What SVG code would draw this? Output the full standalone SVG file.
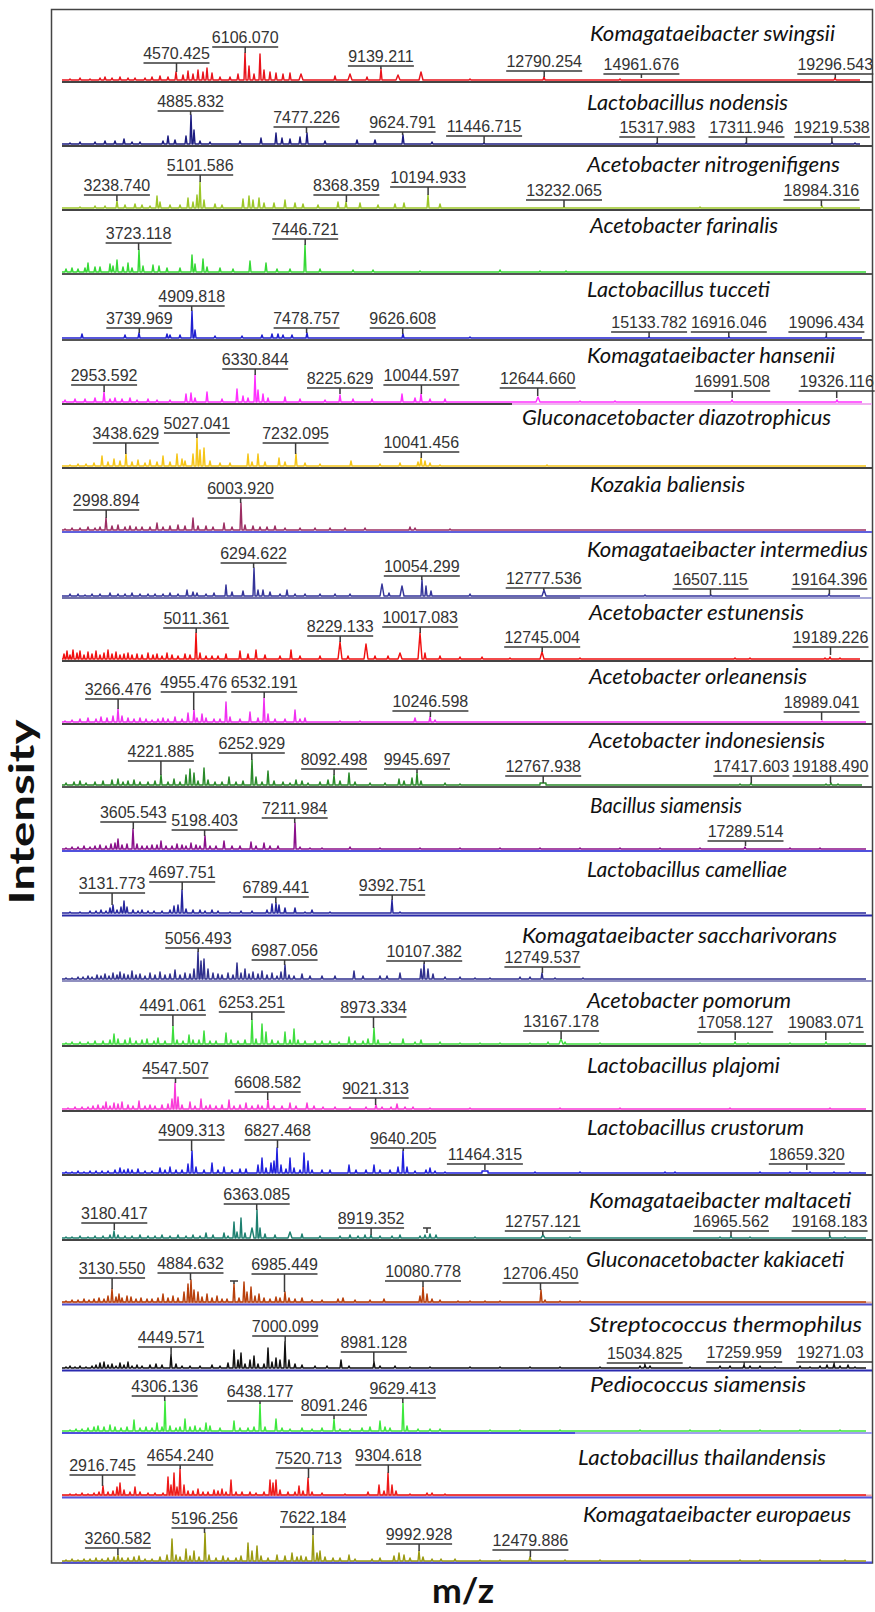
<svg xmlns="http://www.w3.org/2000/svg" width="875" height="1612" viewBox="0 0 875 1612">
<style>
.s{fill:none;stroke-width:1.45;stroke-linejoin:round}
.sep{fill:none;stroke-width:2}
.mk{fill:none;stroke:#3a3a3a;stroke-width:1.5}
.pk{font-family:"Liberation Sans",Arial,sans-serif;font-size:16px;fill:#333;text-anchor:middle}
.sn{font-family:Lato,"Open Sans",sans-serif;font-style:italic;font-size:22px;fill:#111}
.ax{font-family:Lato,"Open Sans",sans-serif;font-weight:bold;font-size:34px;fill:#111;text-anchor:middle}
</style>
<rect width="875" height="1612" fill="#fff"/>
<rect x="51.5" y="9.5" width="821" height="1553.5" fill="none" stroke="#444" stroke-width="1.5"/>

<g id="panel-1">
<path class="sep" stroke="#444" d="M62 82H872"/>
<path class="s" stroke="#e8141c" d="M62 80H69l1-1l1 1H79l1-2l1 2H89l1-1l1 1H99l1-2l1 2H104l1-3l1 3H111l1-2l1 2H119l1-3l1 3H127l1-2l1 2H134l1-2l1 2H144l1-2l1 2H151l1-3l1 3H159l1-4l1 4H167l1-3l1 3H175l1-8l1 8H182l1-5l1 5H187l1-9l1 9H192l1-6l1 6H197l1-10l1 10H202l1-8l1 8H206l1-12l1 12H211l1-7l1 7H219l1-3l1 3H229l1-3l1 3H237l1-6l1 6H244l1-27l1 27H248l1-14l1 14H253l1-6l1 6H259l1-26l1 26H263l1-10l1 10H269l1-8l1 8H275l1-7l1 7H282l1-6l1 6H289l1-7l1 7H299l2-6l2 6H334l1-4l1 4H348l2-6l2 6H366l1-3l1 3H380l1-11l1 11H396l2-5l2 5H419l2-8l2 8H469l1-1l1 1H543l1-3l1 3H619l1-1l1 1H834l1-2l1 2H860"/>
<text class="sn" x="590" y="41" textLength="245" lengthAdjust="spacingAndGlyphs">Komagataeibacter swingsii</text>
<path class="mk" d="M143.5 63h66M176.5 63V72M212.2 47h66M245.2 47V53M347.9 66h66M380.9 66V69M506.2 71h76M544.2 71V77M603.4 74h76M641.4 74V78M797.3 74h76M835.3 74V78"/>
<text class="pk" x="176.5" y="59">4570.425</text>
<text class="pk" x="245.2" y="43">6106.070</text>
<text class="pk" x="380.9" y="62">9139.211</text>
<text class="pk" x="544.2" y="67">12790.254</text>
<text class="pk" x="641.4" y="70">14961.676</text>
<text class="pk" x="835.3" y="70">19296.543</text>
</g>

<g id="panel-2">
<path class="sep" stroke="#444" d="M62 146H872"/>
<path class="s" stroke="#1c1c80" d="M62 144H69l1-1l1 1H79l1-2l1 2H94l1-2l1 2H104l1-3l1 3H114l1-3l1 3H123l1-5l1 5H131l1-2l1 2H139l1-2l1 2H162l1-3l1 3H167l1-8l1 8H174l1-4l1 4H185l1-8l1 8H190l1-29l1 29H193l1-14l1 14H199l1-3l1 3H209l1-2l1 2H239l1-3l1 3H260l1-6l1 6H275l1-11l1 11H281l1-6l1 6H289l1-5l1 5H299l1-7l1 7H306l1-11l1 11H324l1-3l1 3H356l1-4l1 4H374l1-4l1 4H402l1-9l1 9H431l1-2l1 2H483l1-1l1 1H656l1-1l1 1H745l1-1l1 1H831l1-2l1 2H854l1-1l1 1H860"/>
<text class="sn" x="587" y="110" textLength="201" lengthAdjust="spacingAndGlyphs">Lactobacillus nodensis</text>
<path class="mk" d="M157.6 111h66M190.6 111V115M273.5 127h66M306.5 127V133M369.6 132h66M402.6 132V135M446.1 136h76M484.1 136V143M619.3 137h76M657.3 137V143M708.5 137h76M746.5 137V143M793.9 137h76M831.9 137V143"/>
<text class="pk" x="190.6" y="107">4885.832</text>
<text class="pk" x="306.5" y="123">7477.226</text>
<text class="pk" x="402.6" y="128">9624.791</text>
<text class="pk" x="484.1" y="132">11446.715</text>
<text class="pk" x="657.3" y="133">15317.983</text>
<text class="pk" x="746.5" y="133">17311.946</text>
<text class="pk" x="831.9" y="133">19219.538</text>
</g>

<g id="panel-3">
<path class="sep" stroke="#444" d="M62 210H872"/>
<path class="s" stroke="#9cc628" d="M62 208H79l1-1l1 1H94l1-2l1 2H104l1-2l1 2H116l1-7l1 7H124l1-3l1 3H134l1-4l1 4H141l1-3l1 3H149l1-2l1 2H156l1-12l1 12H159l1-6l1 6H169l1-3l1 3H179l1-3l1 3H187l1-10l1 10H192l1-6l1 6H196l1-13l1 13H199l1-26l1 26H203l1-8l1 8H214l1-4l1 4H221l1-3l1 3H242l1-9l1 9H248l1-12l1 12H252l1-8l1 8H258l1-10l1 10H263l1-5l1 5H273l1-5l1 5H284l1-8l1 8H294l1-5l1 5H302l1-4l1 4H317l1-3l1 3H337l1-6l1 6H345l1-6l1 6H359l1-5l1 5H377l1-3l1 3H394l1-4l1 4H403l1-5l1 5H427l1-13l1 13H439l1-4l1 4H563l1-1l1 1H699l1-1l1 1H821l1-2l1 2H860"/>
<text class="sn" x="587" y="172" textLength="253" lengthAdjust="spacingAndGlyphs">Acetobacter nitrogenifigens</text>
<path class="mk" d="M83.9 195h66M116.9 195V201M167.2 175h66M200.2 175V182M313.4 195h66M346.4 195V202M390.1 187h76M428.1 187V195M526 200h76M564 200V207M783.4 200h76M821.4 200V206"/>
<text class="pk" x="116.9" y="191">3238.740</text>
<text class="pk" x="200.2" y="171">5101.586</text>
<text class="pk" x="346.4" y="191">8368.359</text>
<text class="pk" x="428.1" y="183">10194.933</text>
<text class="pk" x="564" y="196">13232.065</text>
<text class="pk" x="821.4" y="196">18984.316</text>
</g>

<g id="panel-4">
<path class="sep" stroke="#555" d="M62 274H872"/>
<path class="s" stroke="#36d936" d="M62 272H65l1-3l1 3H71l1-4l1 4H77l1-3l1 3H84l1-4l1 4H87l1-9l1 9H94l1-5l1 5H99l1-5l1 5H109l1-8l1 8H112l1-6l1 6H116l1-12l1 12H122l1-5l1 5H127l1-9l1 9H131l1-4l1 4H138l1-22l1 22H142l1-6l1 6H152l1-7l1 7H158l1-6l1 6H166l1-4l1 4H179l1-4l1 4H191l1-17l1 17H194l1-8l1 8H202l1-13l1 13H206l1-5l1 5H219l1-4l1 4H232l1-3l1 3H249l1-11l1 11H265l1-9l1 9H276l1-3l1 3H289l1-3l1 3H304l1-27l1 27H319l1-3l1 3H352l1-2l1 2H372l1-2l1 2H419l1-1l1 1H499l1-2l1 2H539l1-1l1 1H565l1-1l1 1H866"/>
<text class="sn" x="590" y="233" textLength="188" lengthAdjust="spacingAndGlyphs">Acetobacter farinalis</text>
<path class="mk" d="M105.6 243h66M138.6 243V250M272.2 239h66M305.2 239V245"/>
<text class="pk" x="138.6" y="239">3723.118</text>
<text class="pk" x="305.2" y="235">7446.721</text>
</g>

<g id="panel-5">
<path class="sep" stroke="#555" d="M62 340H872"/>
<path class="s" stroke="#2020d0" d="M62 338H81l1-4l1 4H124l1-3l1 3H138l1-5l1 5H166l1-4l1 4H169l1-3l1 3H179l1-3l1 3H191l1-27l1 27H194l1-8l1 8H214l1-2l1 2H241l1-2l1 2H261l1-3l1 3H271l1-4l1 4H277l1-4l1 4H282l1-3l1 3H291l1-3l1 3H306l1-5l1 5H402l1-4l1 4H469l1-1l1 1H648l1-1l1 1H728l1-1l1 1H825l1-1l1 1H862"/>
<text class="sn" x="587" y="297" textLength="183" lengthAdjust="spacingAndGlyphs">Lactobacillus tucceti</text>
<path class="mk" d="M158.7 306h66M191.7 306V311M106.3 328h66M139.3 328V333M273.6 328h66M306.6 328V333M369.7 328h66M402.7 328V334M611.1 332h76M649.1 332V337M690.8 332h76M728.8 332V337M788.4 332h76M826.4 332V337"/>
<text class="pk" x="191.7" y="302">4909.818</text>
<text class="pk" x="139.3" y="324">3739.969</text>
<text class="pk" x="306.6" y="324">7478.757</text>
<text class="pk" x="402.7" y="324">9626.608</text>
<text class="pk" x="649.1" y="328">15133.782</text>
<text class="pk" x="728.8" y="328">16916.046</text>
<text class="pk" x="826.4" y="328">19096.434</text>
</g>

<g id="panel-6">
<path class="sep" stroke="#444" d="M62 404H512"/>
<path class="sep" stroke="#f0b0f0" d="M512 404H872"/>
<path class="s" stroke="#ff30ff" d="M62 402H64l1-2l1 2H74l1-3l1 3H84l1-3l1 3H94l1-4l1 4H103l1-10l1 10H109l1-3l1 3H114l1-4l1 4H121l1-3l1 3H129l1-4l1 4H136l1-2l1 2H147l1-3l1 3H156l1-2l1 2H169l1-2l1 2H185l1-8l1 8H190l1-9l1 9H194l1-4l1 4H206l1-10l1 10H221l1-3l1 3H236l1-13l1 13H242l1-6l1 6H247l1-4l1 4H254l1-27l1 27H257l1-12l1 12H262l1-8l1 8H267l1-4l1 4H284l1-5l1 5H299l1-3l1 3H324l1-2l1 2H339l1-7l1 7H352l1-3l1 3H371l1-3l1 3H401l1-8l1 8H414l1-4l1 4H420l1-8l1 8H429l1-3l1 3H444l1-3l1 3H536l2-5l2 5H579l1-1l1 1H614l1-1l1 1H731l1-2l1 2H836l1-2l1 2H862"/>
<text class="sn" x="587" y="363" textLength="248" lengthAdjust="spacingAndGlyphs">Komagataeibacter hansenii</text>
<path class="mk" d="M71.1 385h66M104.1 385V392M222.2 369h66M255.2 369V375M307 388h66M340 388V394M383.4 385h76M421.4 385V394M499.7 388h76M537.7 388V396M694.2 391h76M732.2 391V398M798.7 391h76M836.7 391V398"/>
<text class="pk" x="104.1" y="381">2953.592</text>
<text class="pk" x="255.2" y="365">6330.844</text>
<text class="pk" x="340" y="384">8225.629</text>
<text class="pk" x="421.4" y="381">10044.597</text>
<text class="pk" x="537.7" y="384">12644.660</text>
<text class="pk" x="732.2" y="387">16991.508</text>
<text class="pk" x="836.7" y="387">19326.116</text>
</g>

<g id="panel-7">
<path class="sep" stroke="#444" d="M62 468H872"/>
<path class="s" stroke="#f5c518" d="M62 466H69l1-1l1 1H77l1-2l1 2H85l1-2l1 2H93l1-3l1 3H101l1-10l1 10H107l1-4l1 4H113l1-7l1 7H119l1-5l1 5H125l1-12l1 12H131l1-4l1 4H137l1-6l1 6H144l1-3l1 3H149l1-6l1 6H156l1-4l1 4H162l1-10l1 10H169l1-4l1 4H176l1-12l1 12H181l1-7l1 7H184l1-5l1 5H192l1-12l1 12H196l1-28l1 28H199l1-16l1 16H203l1-18l1 18H209l1-5l1 5H219l1-3l1 3H229l1-3l1 3H247l1-12l1 12H251l1-4l1 4H257l1-12l1 12H264l1-4l1 4H278l1-8l1 8H284l1-4l1 4H295l1-12l1 12H304l1-3l1 3H319l1-2l1 2H350l1-5l1 5H379l1-2l1 2H399l1-3l1 3H417l1-4l1 4H420l1-8l1 8H424l1-5l1 5H429l1-3l1 3H439l1-1l1 1H546l1-1l1 1H866"/>
<text class="sn" x="522" y="425" textLength="309" lengthAdjust="spacingAndGlyphs">Gluconacetobacter diazotrophicus</text>
<path class="mk" d="M92.8 443h66M125.8 443V454M163.9 433h66M196.9 433V438M262.6 443h66M295.6 443V454M383.3 452h76M421.3 452V458"/>
<text class="pk" x="125.8" y="439">3438.629</text>
<text class="pk" x="196.9" y="429">5027.041</text>
<text class="pk" x="295.6" y="439">7232.095</text>
<text class="pk" x="421.3" y="448">10041.456</text>
</g>

<g id="panel-8">
<path class="sep" stroke="#6060dd" d="M62 532H872"/>
<path class="s" stroke="#9c2f63" d="M62 530H64l1-1l1 1H71l1-2l1 2H79l1-2l1 2H87l1-3l1 3H94l1-2l1 2H99l1-3l1 3H105l1-12l1 12H111l1-4l1 4H117l1-5l1 5H124l1-3l1 3H129l1-4l1 4H135l1-3l1 3H141l1-3l1 3H149l1-3l1 3H156l1-7l1 7H162l1-3l1 3H169l1-4l1 4H177l1-5l1 5H184l1-4l1 4H192l1-12l1 12H197l1-4l1 4H205l1-4l1 4H212l1-3l1 3H223l1-7l1 7H231l1-3l1 3H240l1-27l1 27H244l1-5l1 5H252l1-4l1 4H259l1-3l1 3H266l1-3l1 3H274l1-4l1 4H284l1-2l1 2H299l1-2l1 2H314l1-2l1 2H329l1-2l1 2H344l1-2l1 2H364l1-2l1 2H409l1-3l1 3H414l1-2l1 2H449l1-1l1 1H866"/>
<text class="sn" x="590" y="492" textLength="155" lengthAdjust="spacingAndGlyphs">Kozakia baliensis</text>
<path class="mk" d="M73.2 510h66M106.2 510V518M207.6 498h66M240.6 498V503"/>
<text class="pk" x="106.2" y="506">2998.894</text>
<text class="pk" x="240.6" y="494">6003.920</text>
</g>

<g id="panel-9">
<path class="sep" stroke="#7070a8" d="M62 598H580"/>
<path class="sep" stroke="#a8a8d8" d="M580 598H872"/>
<path class="s" stroke="#35359a" d="M62 596H69l1-2l1 2H77l1-2l1 2H84l1-1l1 1H91l1-2l1 2H99l1-2l1 2H109l1-3l1 3H117l1-2l1 2H124l1-2l1 2H131l1-3l1 3H139l1-2l1 2H147l1-2l1 2H154l1-2l1 2H162l1-2l1 2H169l1-3l1 3H177l1-2l1 2H186l1-6l1 6H192l1-4l1 4H196l1-3l1 3H205l1-2l1 2H213l1-3l1 3H225l1-11l1 11H231l1-4l1 4H242l1-5l1 5H253l1-28l1 28H257l1-6l1 6H262l1-6l1 6H269l1-4l1 4H279l1-2l1 2H286l1-6l1 6H294l1-2l1 2H304l1-2l1 2H319l1-2l1 2H334l1-2l1 2H349l1-2l1 2H380l2-12l2 12H388l1-3l1 3H400l2-10l2 10H421l1-16l1 16H425l1-10l1 10H430l1-5l1 5H469l1-2l1 2H542l2-6l2 6H644l1-1l1 1H710l1-1l1 1H828l1-2l1 2H860"/>
<text class="sn" x="587" y="557" textLength="281" lengthAdjust="spacingAndGlyphs">Komagataeibacter intermedius</text>
<path class="mk" d="M220.6 563h66M253.6 563V568M383.8 576h76M421.8 576V580M505.7 588h76M543.7 588V590M672.5 589h76M710.5 589V595M791.4 589h76M829.4 589V594"/>
<text class="pk" x="253.6" y="559">6294.622</text>
<text class="pk" x="421.8" y="572">10054.299</text>
<text class="pk" x="543.7" y="584">12777.536</text>
<text class="pk" x="710.5" y="585">16507.115</text>
<text class="pk" x="829.4" y="585">19164.396</text>
</g>

<g id="panel-10">
<path class="sep" stroke="#444" d="M62 661H872"/>
<path class="s" stroke="#f01010" d="M62 659H63l1-5l1 5H66l1-8l1 8H69l1-4l1 4H72l1-9l1 9H76l1-6l1 6H79l1-8l1 8H83l1-4l1 4H87l1-7l1 7H91l1-5l1 5H95l1-8l1 8H99l1-4l1 4H103l1-6l1 6H107l1-9l1 9H111l1-5l1 5H115l1-7l1 7H119l1-4l1 4H123l1-5l1 5H127l1-6l1 6H131l1-4l1 4H136l1-5l1 5H141l1-4l1 4H147l1-6l1 6H152l1-4l1 4H156l1-5l1 5H161l1-3l1 3H166l1-6l1 6H171l1-4l1 4H177l1-3l1 3H184l1-5l1 5H189l1-4l1 4H195l1-26l1 26H199l1-6l1 6H205l1-3l1 3H211l1-3l1 3H217l1-3l1 3H225l1-5l1 5H239l1-8l1 8H247l1-5l1 5H255l1-9l1 9H264l1-4l1 4H279l1-3l1 3H290l1-9l1 9H299l1-3l1 3H319l1-3l1 3H338l2-17l2 17H347l1-3l1 3H364l2-15l2 15H374l1-3l1 3H387l1-3l1 3H398l2-6l2 6H418l2-26l2 26H424l1-6l1 6H439l1-3l1 3H459l1-2l1 2H481l1-2l1 2H509l1-1l1 1H540l2-7l2 7H579l1-1l1 1H734l1-1l1 1H749l1-1l1 1H824l1-1l1 1H829l1-2l1 2H839l1-1l1 1H860"/>
<text class="sn" x="589" y="620" textLength="215" lengthAdjust="spacingAndGlyphs">Acetobacter estunensis</text>
<path class="mk" d="M163.2 628h66M196.2 628V633M307.2 636h66M340.2 636V642M382.2 627h76M420.2 627V633M504.2 647h76M542.2 647V652M792.5 647h76M830.5 647V655"/>
<text class="pk" x="196.2" y="624">5011.361</text>
<text class="pk" x="340.2" y="632">8229.133</text>
<text class="pk" x="420.2" y="623">10017.083</text>
<text class="pk" x="542.2" y="643">12745.004</text>
<text class="pk" x="830.5" y="643">19189.226</text>
</g>

<g id="panel-11">
<path class="sep" stroke="#444" d="M62 724H872"/>
<path class="s" stroke="#f030f0" d="M62 722H64l1-1l1 1H71l1-2l1 2H79l1-3l1 3H87l1-4l1 4H95l1-3l1 3H100l1-5l1 5H106l1-4l1 4H112l1-6l1 6H117l1-13l1 13H121l1-6l1 6H127l1-4l1 4H133l1-3l1 3H139l1-4l1 4H145l1-3l1 3H151l1-2l1 2H157l1-3l1 3H162l1-4l1 4H167l1-3l1 3H174l1-5l1 5H181l1-3l1 3H187l1-9l1 9H193l1-12l1 12H196l1-4l1 4H201l1-8l1 8H205l1-4l1 4H213l1-3l1 3H219l1-3l1 3H225l1-20l1 20H229l1-5l1 5H239l1-3l1 3H249l1-10l1 10H257l1-4l1 4H263l1-24l1 24H267l1-8l1 8H274l1-3l1 3H284l1-3l1 3H294l1-12l1 12H299l1-3l1 3H304l1-4l1 4H339l1-1l1 1H359l1-1l1 1H414l1-4l1 4H429l1-5l1 5H434l1-2l1 2H821l1-1l1 1H866"/>
<text class="sn" x="589" y="684" textLength="218" lengthAdjust="spacingAndGlyphs">Acetobacter orleanensis</text>
<path class="mk" d="M85.1 699h66M118.1 699V709M160.7 692h66M193.7 692V710M231.2 692h66M264.2 692V698M392.4 711h76M430.4 711V717M783.6 712h76M821.6 712V720"/>
<text class="pk" x="118.1" y="695">3266.476</text>
<text class="pk" x="193.7" y="688">4955.476</text>
<text class="pk" x="264.2" y="688">6532.191</text>
<text class="pk" x="430.4" y="707">10246.598</text>
<text class="pk" x="821.6" y="708">18989.041</text>
</g>

<g id="panel-12">
<path class="sep" stroke="#555" d="M62 787H872"/>
<path class="s" stroke="#2a8a2a" d="M62 785H65l1-2l1 2H73l1-3l1 3H79l1-4l1 4H85l1-2l1 2H94l1-3l1 3H102l1-4l1 4H111l1-5l1 5H117l1-6l1 6H122l1-3l1 3H127l1-4l1 4H133l1-5l1 5H139l1-3l1 3H147l1-3l1 3H154l1-4l1 4H160l1-10l1 10H167l1-3l1 3H173l1-6l1 6H179l1-3l1 3H185l1-10l1 10H189l1-16l1 16H193l1-12l1 12H197l1-4l1 4H203l1-17l1 17H207l1-5l1 5H214l1-3l1 3H221l1-3l1 3H228l1-8l1 8H235l1-3l1 3H242l1-4l1 4H251l1-25l1 25H255l1-8l1 8H261l1-3l1 3H267l1-14l1 14H273l1-4l1 4H282l1-3l1 3H289l1-2l1 2H295l1-5l1 5H301l1-4l1 4H307l1-2l1 2H319l1-3l1 3H327l1-5l1 5H333l1-10l1 10H339l1-4l1 4H348l1-12l1 12H354l1-3l1 3H369l1-2l1 2H384l1-2l1 2H398l1-6l1 6H403l1-4l1 4H411l1-7l1 7H416l1-12l1 12H420l1-4l1 4H444l1-2l1 2H459l1-1l1 1H540v-2h6v2H739l1-1l1 1H750l1-2l1 2H825l1-1l1 1H830l1-2l1 2H837l1-1l1 1H862"/>
<text class="sn" x="589" y="748" textLength="236" lengthAdjust="spacingAndGlyphs">Acetobacter indonesiensis</text>
<path class="mk" d="M127.9 761h66M160.9 761V775M218.8 753h66M251.8 753V760M301.1 769h66M334.1 769V775M384 769h66M417 769V773M505.2 776h76M543.2 776V783M713.3 776h76M751.3 776V783M792.5 776h76M830.5 776V783"/>
<text class="pk" x="160.9" y="757">4221.885</text>
<text class="pk" x="251.8" y="749">6252.929</text>
<text class="pk" x="334.1" y="765">8092.498</text>
<text class="pk" x="417" y="765">9945.697</text>
<text class="pk" x="543.2" y="772">12767.938</text>
<text class="pk" x="751.3" y="772">17417.603</text>
<text class="pk" x="830.5" y="772">19188.490</text>
</g>

<g id="panel-13">
<path class="sep" stroke="#5050dd" d="M62 851H872"/>
<path class="s" stroke="#8a108a" d="M62 849H65l1-1l1 1H71l1-2l1 2H77l1-2l1 2H83l1-3l1 3H89l1-2l1 2H94l1-3l1 3H99l1-4l1 4H105l1-3l1 3H110l1-5l1 5H114l1-6l1 6H117l1-10l1 10H121l1-4l1 4H126l1-5l1 5H132l1-20l1 20H136l1-5l1 5H141l1-3l1 3H146l1-3l1 3H151l1-4l1 4H156l1-4l1 4H160l1-8l1 8H165l1-3l1 3H171l1-3l1 3H176l1-5l1 5H181l1-4l1 4H185l1-3l1 3H190l1-6l1 6H195l1-4l1 4H199l1-3l1 3H204l1-13l1 13H209l1-3l1 3H215l1-3l1 3H223l1-8l1 8H231l1-3l1 3H239l1-3l1 3H250l1-7l1 7H255l1-3l1 3H263l1-6l1 6H269l1-3l1 3H277l1-3l1 3H294l1-26l1 26H299l1-2l1 2H309l1-1l1 1H321l1-1l1 1H349l1-2l1 2H379l1-1l1 1H419l1-1l1 1H459l1-1l1 1H499l1-1l1 1H539l1-1l1 1H579l1-1l1 1H619l1-1l1 1H659l1-1l1 1H699l1-1l1 1H744l1-2l1 2H789l1-1l1 1H819l1-1l1 1H866"/>
<text class="sn" x="590" y="813" textLength="152" lengthAdjust="spacingAndGlyphs">Bacillus siamensis</text>
<path class="mk" d="M100.3 822h66M133.3 822V829M171.6 830h66M204.6 830V836M261.7 818h66M294.7 818V823M707.5 841h76M745.5 841V846"/>
<text class="pk" x="133.3" y="818">3605.543</text>
<text class="pk" x="204.6" y="826">5198.403</text>
<text class="pk" x="294.7" y="814">7211.984</text>
<text class="pk" x="745.5" y="837">17289.514</text>
</g>

<g id="panel-14">
<path class="sep" stroke="#2a2aa8" stroke-width="3" d="M62 915.5H872"/>
<path class="s" stroke="#26269e" d="M62 913H69l1-1l1 1H79l1-1l1 1H89l1-2l1 2H95l1-2l1 2H100l1-3l1 3H105l1-2l1 2H109l1-5l1 5H112l1-8l1 8H116l1-3l1 3H120l1-6l1 6H123l1-12l1 12H126l1-6l1 6H132l1-3l1 3H137l1-2l1 2H141l1-3l1 3H147l1-2l1 2H153l1-2l1 2H161l1-2l1 2H169l1-3l1 3H173l1-7l1 7H177l1-8l1 8H181l1-23l1 23H185l1-4l1 4H192l1-3l1 3H199l1-3l1 3H204l1-2l1 2H211l1-3l1 3H217l1-2l1 2H229l1-1l1 1H240l1-2l1 2H251l1-2l1 2H266l1-3l1 3H271l1-9l1 9H275l1-10l1 10H278l1-8l1 8H284l1-5l1 5H294l1-5l1 5H304l1-1l1 1H311l1-3l1 3H329l1-1l1 1H391l1-13l1 13H399l1-1l1 1H866"/>
<text class="sn" x="587" y="877" textLength="200" lengthAdjust="spacingAndGlyphs">Lactobacillus camelliae</text>
<path class="mk" d="M79.1 893h66M112.1 893V905M149.2 882h66M182.2 882V890M242.8 897h66M275.8 897V903M359.2 895h66M392.2 895V900"/>
<text class="pk" x="112.1" y="889">3131.773</text>
<text class="pk" x="182.2" y="878">4697.751</text>
<text class="pk" x="275.8" y="893">6789.441</text>
<text class="pk" x="392.2" y="891">9392.751</text>
</g>

<g id="panel-15">
<path class="sep" stroke="#9090c0" d="M62 981H872"/>
<path class="s" stroke="#30308e" d="M62 979H65l1-1l1 1H71l1-1l1 1H77l1-2l1 2H82l1-2l1 2H87l1-3l1 3H91l1-2l1 2H96l1-4l1 4H100l1-3l1 3H104l1-5l1 5H108l1-3l1 3H112l1-6l1 6H116l1-4l1 4H119l1-7l1 7H123l1-5l1 5H127l1-4l1 4H131l1-8l1 8H135l1-4l1 4H139l1-5l1 5H144l1-3l1 3H149l1-6l1 6H154l1-4l1 4H159l1-7l1 7H164l1-4l1 4H169l1-5l1 5H174l1-9l1 9H179l1-4l1 4H184l1-6l1 6H189l1-5l1 5H193l1-10l1 10H197l1-27l1 27H200l1-18l1 18H203l1-20l1 20H207l1-10l1 10H212l1-6l1 6H217l1-5l1 5H221l1-4l1 4H227l1-6l1 6H232l1-4l1 4H236l1-16l1 16H240l1-6l1 6H244l1-10l1 10H248l1-5l1 5H252l1-7l1 7H257l1-5l1 5H261l1-8l1 8H266l1-4l1 4H271l1-6l1 6H276l1-3l1 3H280l1-7l1 7H284l1-14l1 14H288l1-4l1 4H293l1-3l1 3H301l1-5l1 5H309l1-3l1 3H321l1-3l1 3H334l1-3l1 3H353l1-8l1 8H362l1-3l1 3H379l1-3l1 3H386l1-3l1 3H399l1-6l1 6H420l1-10l1 10H423l1-15l1 15H427l1-10l1 10H432l1-5l1 5H444l1-2l1 2H459l1-2l1 2H474l1-1l1 1H489l1-1l1 1H519l1-2l1 2H529l1-2l1 2H541l1-6l1 6H554l1-1l1 1H582l1-1l1 1H866"/>
<text class="sn" x="522" y="943" textLength="315" lengthAdjust="spacingAndGlyphs">Komagataeibacter saccharivorans</text>
<path class="mk" d="M165.2 948h66M198.2 948V952M251.6 960h66M284.6 960V965M386.2 961h76M424.2 961V964M504.4 967h76M542.4 967V973"/>
<text class="pk" x="198.2" y="944">5056.493</text>
<text class="pk" x="284.6" y="956">6987.056</text>
<text class="pk" x="424.2" y="957">10107.382</text>
<text class="pk" x="542.4" y="963">12749.537</text>
</g>

<g id="panel-16">
<path class="sep" stroke="#444" d="M62 1046H872"/>
<path class="s" stroke="#3ede3e" d="M62 1044H65l1-1l1 1H71l1-2l1 2H79l1-2l1 2H87l1-2l1 2H94l1-3l1 3H102l1-3l1 3H109l1-4l1 4H113l1-10l1 10H117l1-5l1 5H124l1-4l1 4H129l1-6l1 6H135l1-3l1 3H141l1-4l1 4H146l1-5l1 5H153l1-3l1 3H157l1-6l1 6H164l1-3l1 3H172l1-18l1 18H176l1-4l1 4H182l1-3l1 3H188l1-9l1 9H192l1-4l1 4H198l1-4l1 4H203l1-13l1 13H209l1-3l1 3H215l1-3l1 3H225l1-11l1 11H230l1-4l1 4H237l1-3l1 3H244l1-4l1 4H251l1-24l1 24H255l1-5l1 5H261l1-20l1 20H265l1-12l1 12H271l1-4l1 4H277l1-3l1 3H284l1-12l1 12H289l1-4l1 4H293l1-15l1 15H297l1-4l1 4H304l1-3l1 3H314l1-3l1 3H321l1-3l1 3H329l1-3l1 3H338l1-2l1 2H348l1-7l1 7H354l1-3l1 3H362l1-3l1 3H367l1-5l1 5H373l1-16l1 16H377l1-4l1 4H389l1-2l1 2H402l1-5l1 5H414l1-2l1 2H420l1-4l1 4H439l1-2l1 2H459l1-1l1 1H479l1-1l1 1H499l1-1l1 1H529l1-1l1 1H547l1-2l1 2H559l2-5l2 5H564l1-2l1 2H599l1-1l1 1H699l1-1l1 1H734l1-2l1 2H747l1-1l1 1H789l1-1l1 1H825l1-2l1 2H849l1-1l1 1H866"/>
<text class="sn" x="587" y="1008" textLength="204" lengthAdjust="spacingAndGlyphs">Acetobacter pomorum</text>
<path class="mk" d="M139.9 1015h66M172.9 1015V1026M218.8 1012h66M251.8 1012V1020M340.5 1017h66M373.5 1017V1028M523.1 1031h76M561.1 1031V1039M697.2 1032h76M735.2 1032V1040M787.8 1032h76M825.8 1032V1040"/>
<text class="pk" x="172.9" y="1011">4491.061</text>
<text class="pk" x="251.8" y="1008">6253.251</text>
<text class="pk" x="373.5" y="1013">8973.334</text>
<text class="pk" x="561.1" y="1027">13167.178</text>
<text class="pk" x="735.2" y="1028">17058.127</text>
<text class="pk" x="825.8" y="1028">19083.071</text>
</g>

<g id="panel-17">
<path class="sep" stroke="#444" d="M62 1111H872"/>
<path class="s" stroke="#fa3ad8" d="M62 1109H67l1-1l1 1H74l1-2l1 2H81l1-2l1 2H87l1-2l1 2H92l1-3l1 3H97l1-4l1 4H102l1-3l1 3H105l1-7l1 7H109l1-3l1 3H113l1-6l1 6H117l1-5l1 5H121l1-7l1 7H127l1-4l1 4H132l1-3l1 3H138l1-8l1 8H144l1-3l1 3H149l1-4l1 4H154l1-3l1 3H161l1-4l1 4H167l1-5l1 5H171l1-10l1 10H174l1-26l1 26H177l1-12l1 12H181l1-4l1 4H189l1-7l1 7H194l1-3l1 3H200l1-10l1 10H205l1-3l1 3H209l1-4l1 4H215l1-3l1 3H221l1-4l1 4H228l1-9l1 9H233l1-3l1 3H239l1-4l1 4H245l1-6l1 6H251l1-3l1 3H257l1-4l1 4H261l1-3l1 3H267l1-9l1 9H273l1-3l1 3H281l1-3l1 3H289l1-6l1 6H295l1-3l1 3H306l1-6l1 6H313l1-3l1 3H322l1-2l1 2H334l1-2l1 2H349l1-2l1 2H365l1-2l1 2H375l1-4l1 4H381l1-2l1 2H390l1-2l1 2H396l1-5l1 5H404l1-2l1 2H412l1-2l1 2H429l1-1l1 1H469l1-1l1 1H559l1-1l1 1H619l1-1l1 1H729l1-1l1 1H829l1-1l1 1H866"/>
<text class="sn" x="587" y="1073" textLength="193" lengthAdjust="spacingAndGlyphs">Lactobacillus plajomi</text>
<path class="mk" d="M142.5 1078h66M175.5 1078V1083M234.7 1092h66M267.7 1092V1100M342.6 1098h66M375.6 1098V1105"/>
<text class="pk" x="175.5" y="1074">4547.507</text>
<text class="pk" x="267.7" y="1088">6608.582</text>
<text class="pk" x="375.6" y="1094">9021.313</text>
</g>

<g id="panel-18">
<path class="sep" stroke="#444" d="M62 1175H872"/>
<path class="s" stroke="#2020dd" d="M62 1173H65l1-1l1 1H71l1-1l1 1H77l1-2l1 2H83l1-1l1 1H89l1-2l1 2H95l1-2l1 2H101l1-2l1 2H107l1-2l1 2H114l1-3l1 3H119l1-5l1 5H123l1-3l1 3H127l1-4l1 4H131l1-3l1 3H137l1-4l1 4H144l1-2l1 2H151l1-2l1 2H159l1-5l1 5H164l1-3l1 3H169l1-6l1 6H175l1-3l1 3H181l1-3l1 3H187l1-9l1 9H191l1-22l1 22H195l1-6l1 6H203l1-3l1 3H211l1-10l1 10H217l1-3l1 3H223l1-6l1 6H231l1-3l1 3H239l1-4l1 4H245l1-4l1 4H257l1-8l1 8H261l1-15l1 15H265l1-5l1 5H270l1-10l1 10H273l1-12l1 12H276l1-25l1 25H280l1-8l1 8H285l1-4l1 4H289l1-15l1 15H293l1-5l1 5H299l1-3l1 3H303l1-20l1 20H307l1-12l1 12H311l1-3l1 3H321l1-3l1 3H329l1-3l1 3H348l1-8l1 8H355l1-3l1 3H365l1-3l1 3H373l1-8l1 8H379l1-3l1 3H389l1-3l1 3H397l1-6l1 6H402l1-22l1 22H406l1-6l1 6H414l1-2l1 2H425l1-3l1 3H429l1-5l1 5H434l1-2l1 2H444l1-1l1 1H482v-2h6v2H534l1-1l1 1H579l1-1l1 1H664l1-1l1 1H674l1-1l1 1H759l1-1l1 1H789l1-1l1 1H809l1-1l1 1H833l1-1l1 1H849l1-1l1 1H866"/>
<text class="sn" x="587" y="1135" textLength="217" lengthAdjust="spacingAndGlyphs">Lactobacillus crustorum</text>
<path class="mk" d="M158.6 1140h66M191.6 1140V1151M244.5 1140h66M277.5 1140V1148M370.3 1148h66M403.3 1148V1151M446.9 1164h76M484.9 1164V1170M768.8 1164h76M806.8 1164V1170"/>
<text class="pk" x="191.6" y="1136">4909.313</text>
<text class="pk" x="277.5" y="1136">6827.468</text>
<text class="pk" x="403.3" y="1144">9640.205</text>
<text class="pk" x="484.9" y="1160">11464.315</text>
<text class="pk" x="806.8" y="1160">18659.320</text>
</g>

<g id="panel-19">
<path class="sep" stroke="#444" d="M62 1240H872"/>
<path class="s" stroke="#1e8070" d="M62 1238H65l1-1l1 1H71l1-1l1 1H79l1-2l1 2H87l1-1l1 1H94l1-2l1 2H102l1-2l1 2H109l1-3l1 3H113l1-7l1 7H117l1-3l1 3H124l1-2l1 2H131l1-2l1 2H139l1-3l1 3H147l1-2l1 2H154l1-2l1 2H161l1-3l1 3H169l1-2l1 2H177l1-3l1 3H185l1-2l1 2H192l1-3l1 3H199l1-2l1 2H205l1-5l1 5H212l1-3l1 3H223l1-5l1 5H227l1-2l1 2H233l1-16l1 16H236l1-6l1 6H240l1-20l1 20H244l1-5l1 5H250l2-10l2 10H256l1-28l1 28H259l1-10l1 10H264l1-4l1 4H274l1-3l1 3H288l2-6l2 6H301l1-4l1 4H319l1-2l1 2H339l1-2l1 2H349l1-3l1 3H357l1-2l1 2H364l1-3l1 3H370l1-3l1 3H379l1-2l1 2H391l1-2l1 2H399l1-3l1 3H419l1-2l1 2H424l1-3l1 3H429l1-4l1 4H435l1-3l1 3H474l1-1l1 1H541l2-3l2 3H569l1-1l1 1H719l1-1l1 1H730l1-2l1 2H749l1-1l1 1H829l1-2l1 2H844l1-1l1 1H866"/>
<text class="sn" x="589" y="1208" textLength="262" lengthAdjust="spacingAndGlyphs">Komagataeibacter maltaceti</text>
<path class="mk" d="M81.3 1223h66M114.3 1223V1230M223.7 1204h66M256.7 1204V1210M338.1 1228h66M371.1 1228V1235M504.8 1231h76M542.8 1231V1235M693 1231h76M731 1231V1236M791.6 1231h76M829.6 1231V1236M423 1228h8M427 1228V1233M339 1223h2"/>
<text class="pk" x="114.3" y="1219">3180.417</text>
<text class="pk" x="256.7" y="1200">6363.085</text>
<text class="pk" x="371.1" y="1224">8919.352</text>
<text class="pk" x="542.8" y="1227">12757.121</text>
<text class="pk" x="731" y="1227">16965.562</text>
<text class="pk" x="829.6" y="1227">19168.183</text>
</g>

<g id="panel-20">
<path class="sep" stroke="#e8b0a0" d="M62 1302.5H872"/>
<path class="sep" stroke="#5050cc" d="M62 1304.5H872"/>
<path class="s" stroke="#b8400c" d="M62 1302H65l1-1l1 1H71l1-2l1 2H77l1-2l1 2H83l1-3l1 3H88l1-2l1 2H93l1-3l1 3H98l1-4l1 4H103l1-3l1 3H107l1-6l1 6H111l1-13l1 13H115l1-5l1 5H118l1-8l1 8H121l1-4l1 4H126l1-6l1 6H130l1-5l1 5H135l1-3l1 3H140l1-4l1 4H146l1-3l1 3H151l1-3l1 3H157l1-4l1 4H162l1-8l1 8H167l1-4l1 4H172l1-6l1 6H177l1-4l1 4H183l1-10l1 10H187l1-18l1 18H190l1-22l1 22H193l1-12l1 12H197l1-10l1 10H201l1-5l1 5H206l1-8l1 8H211l1-4l1 4H216l1-6l1 6H221l1-3l1 3H226l1-3l1 3H233l1-18l1 18H238l1-4l1 4H243l1-20l1 20H246l1-10l1 10H250l1-15l1 15H254l1-6l1 6H258l1-8l1 8H263l1-4l1 4H269l1-3l1 3H275l1-5l1 5H279l1-4l1 4H284l1-10l1 10H288l1-4l1 4H294l1-3l1 3H301l1-4l1 4H311l1-2l1 2H321l1-2l1 2H337l1-3l1 3H342l1-4l1 4H354l1-2l1 2H369l1-2l1 2H383l1-3l1 3H419l1-6l1 6H422l1-15l1 15H426l1-8l1 8H431l1-3l1 3H439l1-2l1 2H457l1-1l1 1H469l1-1l1 1H484l1-1l1 1H499l1-1l1 1H540l1-12l1 12H544l1-2l1 2H559l1-1l1 1H579l1-1l1 1H866"/>
<text class="sn" x="586" y="1267" textLength="258" lengthAdjust="spacingAndGlyphs">Gluconacetobacter kakiaceti</text>
<path class="mk" d="M79.1 1278h66M112.1 1278V1289M157.5 1273h66M190.5 1273V1280M251.5 1274h66M284.5 1274V1292M385 1281h76M423 1281V1287M502.5 1283h76M540.5 1283V1290M230 1281h8M234 1281V1284"/>
<text class="pk" x="112.1" y="1274">3130.550</text>
<text class="pk" x="190.5" y="1269">4884.632</text>
<text class="pk" x="284.5" y="1270">6985.449</text>
<text class="pk" x="423" y="1277">10080.778</text>
<text class="pk" x="540.5" y="1279">12706.450</text>
</g>

<g id="panel-21">
<path class="sep" stroke="#2a2ab0" stroke-width="3" d="M62 1370.5H872"/>
<path class="s" stroke="#111" d="M62 1368H65l1-1l1 1H69l1-2l1 2H74l1-1l1 1H79l1-2l1 2H85l1-1l1 1H91l1-2l1 2H95l1-3l1 3H99l1-5l1 5H103l1-6l1 6H107l1-3l1 3H111l1-4l1 4H115l1-2l1 2H119l1-5l1 5H123l1-3l1 3H127l1-6l1 6H131l1-2l1 2H136l1-3l1 3H141l1-2l1 2H149l1-3l1 3H155l1-4l1 4H161l1-3l1 3H170l1-13l1 13H175l1-4l1 4H181l1-2l1 2H189l1-2l1 2H199l1-2l1 2H211l1-3l1 3H219l1-2l1 2H227l1-5l1 5H233l1-18l1 18H237l1-8l1 8H240l1-15l1 15H244l1-4l1 4H249l1-8l1 8H253l1-12l1 12H257l1-4l1 4H263l1-4l1 4H267l1-20l1 20H271l1-6l1 6H275l1-10l1 10H279l1-8l1 8H284l1-26l1 26H288l1-8l1 8H294l1-4l1 4H301l1-3l1 3H314l1-2l1 2H326l1-2l1 2H340l1-8l1 8H348l1-2l1 2H373l1-6l1 6H379l1-2l1 2H394l1-2l1 2H409l1-1l1 1H429l1-1l1 1H469l1-1l1 1H499l1-1l1 1H529l1-1l1 1H559l1-1l1 1H599l1-1l1 1H639l1-2l1 2H644l1-3l1 3H649l1-2l1 2H689l1-1l1 1H719l1-2l1 2H729l1-2l1 2H743l1-3l1 3H749l1-2l1 2H759l1-2l1 2H774l1-1l1 1H799l1-2l1 2H809l1-1l1 1H819l1-2l1 2H826l1-3l1 3H833l1-4l1 4H839l1-2l1 2H847l1-3l1 3H854l1-1l1 1H866"/>
<text class="sn" x="589" y="1332" textLength="273" lengthAdjust="spacingAndGlyphs">Streptococcus thermophilus</text>
<path class="mk" d="M138.1 1347h66M171.1 1347V1355M252.2 1336h66M285.2 1336V1342M340.8 1352h66M373.8 1352V1362M606.7 1363h76M644.7 1363V1365M706.2 1362h76M744.2 1362V1365M796.2 1362h76M834.2 1362V1364"/>
<text class="pk" x="171.1" y="1343">4449.571</text>
<text class="pk" x="285.2" y="1332">7000.099</text>
<text class="pk" x="373.8" y="1348">8981.128</text>
<text class="pk" x="644.7" y="1359">15034.825</text>
<text class="pk" x="744.2" y="1358">17259.959</text>
<text class="pk" x="797" y="1358" style="text-anchor:start">19271.03</text>
</g>

<g id="panel-22">
<path class="sep" stroke="#5050dd" d="M62 1433H575"/>
<path class="sep" stroke="#a0a0ee" d="M575 1433H872"/>
<path class="s" stroke="#3ee83e" d="M62 1431H69l1-1l1 1H75l1-2l1 2H81l1-2l1 2H87l1-3l1 3H93l1-4l1 4H97l1-5l1 5H103l1-4l1 4H109l1-6l1 6H114l1-4l1 4H120l1-3l1 3H126l1-4l1 4H133l1-11l1 11H139l1-3l1 3H145l1-4l1 4H151l1-3l1 3H156l1-8l1 8H161l1-4l1 4H164l1-30l1 30H169l1-5l1 5H175l1-3l1 3H179l1-4l1 4H184l1-12l1 12H189l1-4l1 4H194l1-5l1 5H199l1-3l1 3H205l1-8l1 8H209l1-5l1 5H219l1-3l1 3H233l1-10l1 10H239l1-3l1 3H247l1-3l1 3H253l1-4l1 4H259l1-27l1 27H264l1-4l1 4H275l1-12l1 12H281l1-3l1 3H289l1-2l1 2H301l1-3l1 3H311l1-2l1 2H321l1-3l1 3H333l1-12l1 12H339l1-2l1 2H349l1-2l1 2H361l1-3l1 3H369l1-4l1 4H379l1-10l1 10H384l1-4l1 4H389l1-3l1 3H402l1-28l1 28H406l1-5l1 5H417l1-2l1 2H429l1-2l1 2H439l1-2l1 2H489l1-1l1 1H519l1-1l1 1H559l1-1l1 1H639l1-1l1 1H689l1-1l1 1H719l1-1l1 1H759l1-1l1 1H799l1-1l1 1H839l1-1l1 1H866"/>
<text class="sn" x="590" y="1392" textLength="216" lengthAdjust="spacingAndGlyphs">Pediococcus siamensis</text>
<path class="mk" d="M131.7 1396h66M164.7 1396V1401M227 1401h66M260 1401V1404M301 1415h66M334 1415V1419M369.8 1398h66M402.8 1398V1403"/>
<text class="pk" x="164.7" y="1392">4306.136</text>
<text class="pk" x="260" y="1397">6438.177</text>
<text class="pk" x="334" y="1411">8091.246</text>
<text class="pk" x="402.8" y="1394">9629.413</text>
</g>

<g id="panel-23">
<path class="sep" stroke="#f0a0a0" d="M62 1495.5H872"/>
<path class="sep" stroke="#5555dd" d="M62 1497.5H872"/>
<path class="s" stroke="#ee1a1a" d="M62 1495H69l1-1l1 1H75l1-1l1 1H81l1-2l1 2H87l1-1l1 1H93l1-2l1 2H98l1-3l1 3H102l1-9l1 9H107l1-3l1 3H112l1-4l1 4H116l1-8l1 8H119l1-12l1 12H123l1-5l1 5H129l1-3l1 3H134l1-8l1 8H139l1-3l1 3H147l1-2l1 2H154l1-2l1 2H162l1-2l1 2H167l1-18l1 18H170l1-10l1 10H173l1-22l1 22H176l1-8l1 8H179l1-26l1 26H183l1-10l1 10H187l1-4l1 4H192l1-4l1 4H197l1-6l1 6H202l1-3l1 3H207l1-3l1 3H213l1-5l1 5H217l1-4l1 4H221l1-6l1 6H225l1-3l1 3H230l1-15l1 15H235l1-3l1 3H241l1-3l1 3H249l1-3l1 3H255l1-2l1 2H263l1-3l1 3H269l1-15l1 15H272l1-12l1 12H275l1-15l1 15H279l1-5l1 5H287l1-3l1 3H294l1-3l1 3H298l1-9l1 9H302l1-4l1 4H307l1-17l1 17H311l1-3l1 3H321l1-2l1 2H344l1-1l1 1H367l1-3l1 3H378l1-10l1 10H383l1-4l1 4H387l1-22l1 22H391l1-10l1 10H395l1-4l1 4H409l1-1l1 1H426l1-2l1 2H431l1-2l1 2H444l1-1l1 1H866"/>
<text class="sn" x="578" y="1465" textLength="248" lengthAdjust="spacingAndGlyphs">Lactobacillus thailandensis</text>
<path class="mk" d="M69.5 1475h66M102.5 1475V1486M147.2 1465h66M180.2 1465V1469M275.5 1468h66M308.5 1468V1478M355.3 1465h66M388.3 1465V1473"/>
<text class="pk" x="102.5" y="1471">2916.745</text>
<text class="pk" x="180.2" y="1461">4654.240</text>
<text class="pk" x="308.5" y="1464">7520.713</text>
<text class="pk" x="388.3" y="1461">9304.618</text>
</g>

<g id="panel-24">
<path class="sep" stroke="#4b4bdd" d="M62 1562.5H872"/>
<path class="s" stroke="#9a9a10" d="M62 1561H65l1-1l1 1H71l1-2l1 2H77l1-1l1 1H83l1-2l1 2H89l1-2l1 2H95l1-3l1 3H101l1-2l1 2H107l1-3l1 3H113l1-4l1 4H117l1-6l1 6H121l1-3l1 3H127l1-3l1 3H133l1-4l1 4H138l1-5l1 5H144l1-2l1 2H151l1-2l1 2H159l1-4l1 4H166l1-6l1 6H171l1-22l1 22H175l1-6l1 6H179l1-4l1 4H185l1-12l1 12H189l1-5l1 5H193l1-10l1 10H198l1-4l1 4H204l1-28l1 28H208l1-6l1 6H215l1-3l1 3H222l1-5l1 5H227l1-3l1 3H235l1-3l1 3H240l1-5l1 5H247l1-18l1 18H251l1-10l1 10H256l1-15l1 15H260l1-5l1 5H267l1-3l1 3H276l1-6l1 6H284l1-5l1 5H291l1-8l1 8H296l1-4l1 4H300l1-5l1 5H305l1-4l1 4H312l1-26l1 26H316l1-8l1 8H319l1-10l1 10H324l1-4l1 4H332l1-3l1 3H339l1-3l1 3H348l1-6l1 6H354l1-2l1 2H371l1-2l1 2H379l1-3l1 3H393l1-5l1 5H398l1-8l1 8H403l1-6l1 6H409l1-3l1 3H418l1-10l1 10H422l1-4l1 4H431l1-2l1 2H440l1-2l1 2H454l1-2l1 2H479l1-1l1 1H499l1-1l1 1H529l1-4l1 4H564l1-1l1 1H599l1-1l1 1H639l1-1l1 1H689l1-1l1 1H739l1-1l1 1H759l1-1l1 1H819l1-1l1 1H844l1-1l1 1H866"/>
<text class="sn" x="583" y="1522" textLength="268" lengthAdjust="spacingAndGlyphs">Komagataeibacter europaeus</text>
<path class="mk" d="M84.9 1548h66M117.9 1548V1555M171.5 1528h66M204.5 1528V1533M280 1527h66M313 1527V1535M386.1 1544h66M419.1 1544V1551M492.4 1550h76M530.4 1550V1557"/>
<text class="pk" x="117.9" y="1544">3260.582</text>
<text class="pk" x="204.5" y="1524">5196.256</text>
<text class="pk" x="313" y="1523">7622.184</text>
<text class="pk" x="419.1" y="1540">9992.928</text>
<text class="pk" x="530.4" y="1546">12479.886</text>
</g>

<g id="axis-titles">
<text class="ax" transform="translate(34 812) rotate(-90)" textLength="185" lengthAdjust="spacingAndGlyphs">Intensity</text>
<text class="ax" x="463" y="1603" font-size="32" textLength="62" lengthAdjust="spacingAndGlyphs">m/z</text>
</g>
</svg>
